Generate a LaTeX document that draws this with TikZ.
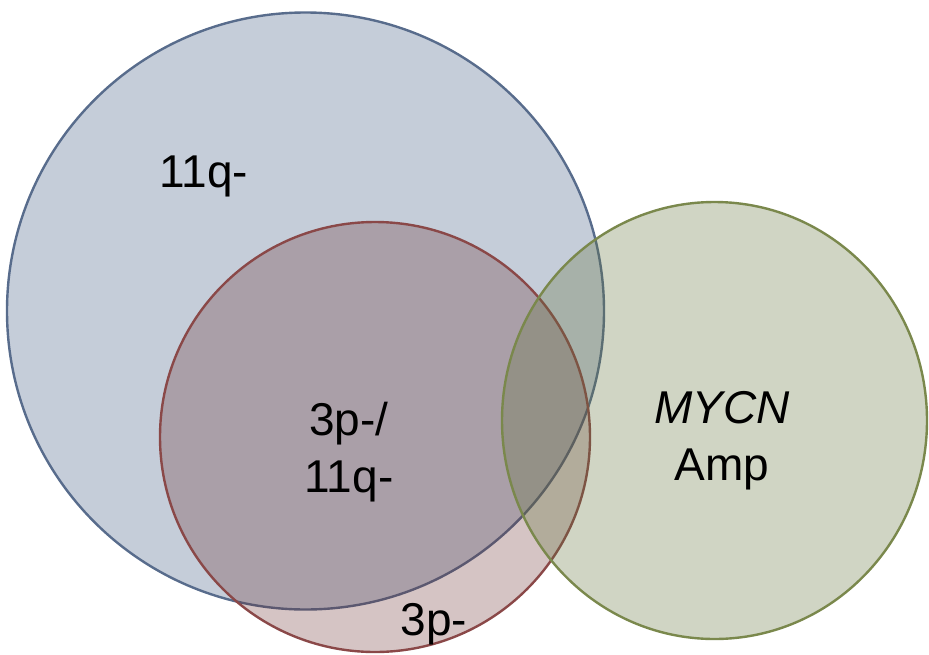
\documentclass[tikz,border=0pt]{standalone}
\usepackage{fontspec}
\setmainfont{Liberation Sans}
\usetikzlibrary{shapes.geometric}
\definecolor{bluefill}{RGB}{197,205,217}
\definecolor{bluestroke}{RGB}{88,108,140}
\definecolor{redfill}{RGB}{100,37,37}
\definecolor{redstroke}{RGB}{138,72,72}
\definecolor{greenfill}{RGB}{98,115,60}
\definecolor{greenstroke}{RGB}{122,136,76}
\tikzset{
  setring/.style={inner sep=0pt, outer sep=0pt, line width=2.4pt},
  lbl/.style={font=\fontsize{46}{57}\selectfont, text=black, inner sep=0pt, align=center}
}
\begin{document}
\begin{tikzpicture}[x=1pt,y=-1pt]
\useasboundingbox (0,0) rectangle (929,654);
\node[setring, circle, minimum size=597pt, draw=bluestroke, fill=bluefill] (c11q) at (305.5,311) {};
\node[setring, circle, minimum size=430pt, draw=redstroke, fill=redfill, fill opacity=0.27] (c3p) at (375,437) {};
\node[setring, ellipse, minimum width=425pt, minimum height=437pt, draw=greenstroke, fill=greenfill, fill opacity=0.3] (cmycn) at (714.5,420.5) {};
\node[lbl, anchor=base] (t11q) at (204,187) {11q-};
\node[lbl, anchor=base] (tboth) at (349,492) {3p-/\\11q-};
\node[lbl, anchor=base] (tmycn) at (722,480) {\itshape MYCN\\Amp};
\node[lbl, anchor=base] (t3p) at (434,635) {3p-};
\end{tikzpicture}
\end{document}
